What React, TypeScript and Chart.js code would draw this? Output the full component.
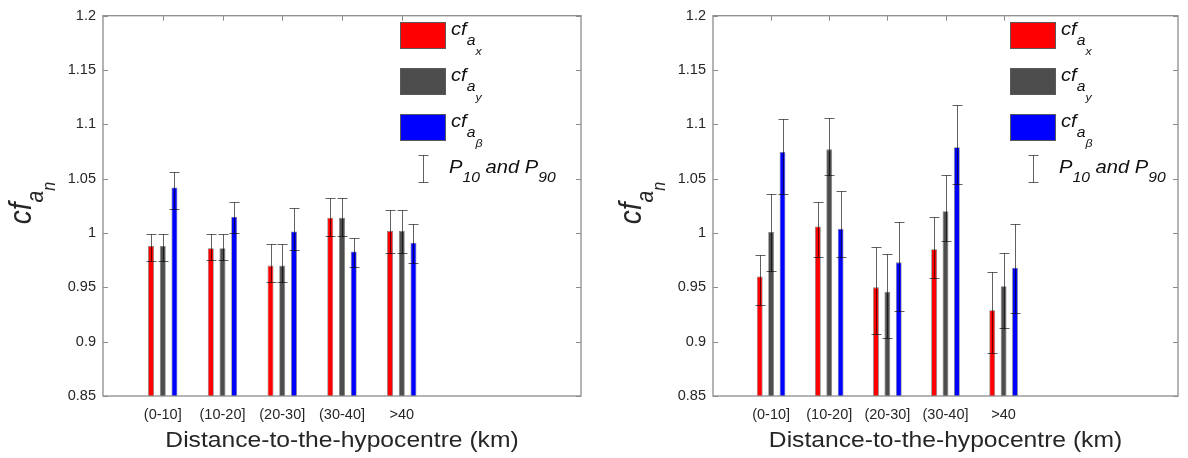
import React, { useEffect, useRef } from 'react';
import { Chart, registerables } from 'chart.js';

Chart.register(...registerables);

// Distance bins and y-axis ticks
const categories = ['(0-10]', '(10-20]', '(20-30]', '(30-40]', '>40'];
const yTicks = [0.85, 0.9, 0.95, 1, 1.05, 1.1, 1.15, 1.2];
const yMin = 0.85;
const yMax = 1.2;
const seriesColors = ['#ff0000', '#4d4d4d', '#0000ff'];
const seriesSubs = ['x', 'y', '\u03b2'];
const xTitle = 'Distance-to-the-hypocentre (km)';

// Left panel: median factors and P10 / P90 bounds
const leftAx = [0.988, 0.986, 0.970, 1.014, 1.002];
const leftAy = [0.988, 0.986, 0.970, 1.014, 1.002];
const leftAb = [1.042, 1.015, 1.0015, 0.983, 0.991];
const leftAxP10 = [0.974, 0.9755, 0.955, 0.997, 0.982];
const leftAyP10 = [0.974, 0.9755, 0.955, 0.997, 0.982];
const leftAbP10 = [1.0225, 1.0, 0.984, 0.969, 0.9725];
const leftAxP90 = [0.9995, 0.9995, 0.99, 1.0325, 1.021];
const leftAyP90 = [0.9995, 0.9995, 0.99, 1.0325, 1.021];
const leftAbP90 = [1.0565, 1.029, 1.023, 0.9955, 1.008];

// Right panel: median factors and P10 / P90 bounds
const rightAx = [0.96, 1.006, 0.95, 0.985, 0.929];
const rightAy = [1.001, 1.077, 0.946, 1.02, 0.951];
const rightAb = [1.0745, 1.004, 0.973, 1.079, 0.968];
const rightAxP10 = [0.9334, 0.978, 0.9075, 0.959, 0.89];
const rightAyP10 = [0.965, 1.053, 0.903, 0.993, 0.9126];
const rightAbP10 = [1.0357, 0.978, 0.9285, 1.045, 0.926];
const rightAxP90 = [0.98, 1.029, 0.9875, 1.0143, 0.9645];
const rightAyP90 = [1.036, 1.106, 0.981, 1.0534, 0.982];
const rightAbP90 = [1.1047, 1.039, 1.0097, 1.1175, 1.0082];

const FONT = '"Liberation Sans", Arial, Helvetica, sans-serif';
const SX = 1.12; // horizontal stretch of the drawn annotation text
const AXIS_GRAY = '#8c8c8c';
const TEXT = '#262626';

type Part = { t: string; size: number; dy: number };

function richWidth(ctx: CanvasRenderingContext2D, parts: Part[]) {
  let w = 0;
  for (const p of parts) {
    ctx.font = `italic ${p.size}px ${FONT}`;
    w += ctx.measureText(p.t).width;
  }
  return w;
}

function drawRich(ctx: CanvasRenderingContext2D, parts: Part[], x: number, y: number) {
  let cx = x;
  for (const p of parts) {
    ctx.font = `italic ${p.size}px ${FONT}`;
    ctx.fillText(p.t, cx, y + p.dy);
    cx += ctx.measureText(p.t).width;
  }
  return cx;
}

// Category axis runs 0..8 with the five bins at positions 1..5
const axisLabels = ['', ...categories, '', '', ''];
const padSeries = (arr: number[]) => [null, ...arr, null, null, null];

function makeDecor(p10: number[][], p90: number[][]) {
  return {
    id: 'decor',
    beforeDatasetsDraw(chart: any) {
      const { ctx, chartArea: a, scales } = chart;
      ctx.save();
      ctx.strokeStyle = AXIS_GRAY;
      ctx.lineWidth = 1;
      for (let k = 1; k <= categories.length; k++) {
        const px = Math.round(scales.x.getPixelForValue(k)) + 0.5;
        ctx.beginPath();
        ctx.moveTo(px, a.bottom);
        ctx.lineTo(px, a.bottom - 5);
        ctx.stroke();
      }
      ctx.restore();
    },
    afterDatasetsDraw(chart: any) {
      const { ctx, chartArea: a, scales } = chart;
      const ys = scales.y;
      const xs = scales.x;
      ctx.save();

      // P10-P90 whiskers
      ctx.strokeStyle = 'rgba(0,0,0,0.62)';
      ctx.lineWidth = 1;
      p10.forEach((lows, di) => {
        const meta = chart.getDatasetMeta(di);
        lows.forEach((lo, k) => {
          const bar = meta.data[k + 1];
          if (!bar) return;
          const x = Math.round(bar.x) + 0.5;
          const yl = Math.round(ys.getPixelForValue(lo)) + 0.5;
          const yh = Math.round(ys.getPixelForValue(p90[di][k])) + 0.5;
          ctx.beginPath();
          ctx.moveTo(x, yl);
          ctx.lineTo(x, yh);
          ctx.moveTo(x - 5, yl);
          ctx.lineTo(x + 5, yl);
          ctx.moveTo(x - 5, yh);
          ctx.lineTo(x + 5, yh);
          ctx.stroke();
        });
      });

      // axes box with inward ticks
      ctx.strokeStyle = AXIS_GRAY;
      ctx.lineWidth = 1.3;
      ctx.strokeRect(a.left, a.top, a.right - a.left, a.bottom - a.top);
      ctx.lineWidth = 1;
      yTicks.forEach((v) => {
        const py = Math.round(ys.getPixelForValue(v)) + 0.5;
        ctx.beginPath();
        ctx.moveTo(a.left, py);
        ctx.lineTo(a.left + 5, py);
        ctx.moveTo(a.right, py);
        ctx.lineTo(a.right - 5, py);
        ctx.stroke();
      });
      for (let k = 1; k <= categories.length; k++) {
        const px = Math.round(xs.getPixelForValue(k)) + 0.5;
        ctx.beginPath();
        ctx.moveTo(px, a.top);
        ctx.lineTo(px, a.top + 5);
        ctx.stroke();
      }

      // legend
      const boxX = a.left + 297;
      const boxW = 46;
      const boxH = 27;
      const rows = [22, 68, 114];
      ctx.textBaseline = 'alphabetic';
      ctx.textAlign = 'left';
      rows.forEach((top, i) => {
        ctx.fillStyle = seriesColors[i];
        ctx.fillRect(boxX, top, boxW, boxH);
        ctx.strokeStyle = '#5a5a5a';
        ctx.lineWidth = 1;
        ctx.strokeRect(boxX + 0.5, top + 0.5, boxW - 1, boxH - 1);
        ctx.save();
        ctx.translate(boxX + boxW + 5, top + 13);
        ctx.scale(SX, 1);
        ctx.fillStyle = '#111';
        drawRich(ctx, [
          { t: 'cf', size: 18, dy: 0 },
          { t: 'a', size: 14, dy: 10 },
          { t: seriesSubs[i], size: 11, dy: 20 },
        ], 0, 0);
        ctx.restore();
      });
      // whisker legend entry
      const wx = Math.round(a.left + 320) + 0.5;
      ctx.strokeStyle = 'rgba(0,0,0,0.62)';
      ctx.beginPath();
      ctx.moveTo(wx, 155.5);
      ctx.lineTo(wx, 182.5);
      ctx.moveTo(wx - 5, 155.5);
      ctx.lineTo(wx + 5, 155.5);
      ctx.moveTo(wx - 5, 182.5);
      ctx.lineTo(wx + 5, 182.5);
      ctx.stroke();
      ctx.save();
      ctx.translate(a.left + 346, 173);
      ctx.scale(SX, 1);
      ctx.fillStyle = '#111';
      drawRich(ctx, [
        { t: 'P', size: 18, dy: 0 },
        { t: '10', size: 14, dy: 9 },
        { t: ' and P', size: 18, dy: 0 },
        { t: '90', size: 14, dy: 9 },
      ], 0, 0);
      ctx.restore();

      // x-axis title
      ctx.save();
      ctx.translate((a.left + a.right) / 2, 447);
      ctx.scale(SX, 1);
      ctx.font = `22px ${FONT}`;
      ctx.fillStyle = TEXT;
      ctx.textAlign = 'center';
      ctx.fillText(xTitle, 0, 0);
      ctx.restore();

      // y-axis title, rotated
      const yParts: Part[] = [
        { t: 'cf', size: 28, dy: 0 },
        { t: 'a', size: 21, dy: 11 },
        { t: 'n', size: 16, dy: 21 },
      ];
      ctx.save();
      ctx.translate(a.left - 72, 203);
      ctx.rotate(-Math.PI / 2);
      ctx.scale(1, SX);
      ctx.fillStyle = TEXT;
      const w = richWidth(ctx, yParts);
      drawRich(ctx, yParts, -w / 2, 0);
      ctx.restore();

      ctx.restore();
    },
  };
}

type PanelSpec = {
  ax: number[];
  ay: number[];
  ab: number[];
  p10: number[][];
  p90: number[][];
  yAxisWidth: number;
  padRight: number;
};

const leftPanel: PanelSpec = {
  ax: leftAx,
  ay: leftAy,
  ab: leftAb,
  p10: [leftAxP10, leftAyP10, leftAbP10],
  p90: [leftAxP90, leftAyP90, leftAbP90],
  yAxisWidth: 103,
  padRight: 13,
};

const rightPanel: PanelSpec = {
  ax: rightAx,
  ay: rightAy,
  ab: rightAb,
  p10: [rightAxP10, rightAyP10, rightAbP10],
  p90: [rightAxP90, rightAyP90, rightAbP90],
  yAxisWidth: 119,
  padRight: 0,
};

function Panel({ spec }: { spec: PanelSpec }) {
  const ref = useRef<HTMLCanvasElement | null>(null);
  useEffect(() => {
    if (!ref.current) return;
    const series = [spec.ax, spec.ay, spec.ab];
    const chart = new Chart(ref.current, {
      type: 'bar',
      data: {
        labels: axisLabels,
        datasets: series.map((s, i) => ({
          label: 'cf_a' + seriesSubs[i],
          data: padSeries(s) as any,
          backgroundColor: seriesColors[i],
          borderColor: 'rgba(0,0,0,0.5)',
          borderWidth: 0.8,
          base: yMin,
          categoryPercentage: 0.588,
          barPercentage: 0.513,
        })),
      },
      options: {
        responsive: false,
        animation: false,
        devicePixelRatio: 1,
        layout: { padding: { left: 0, right: spec.padRight, top: 14, bottom: 0 } },
        plugins: {
          legend: { display: false },
          tooltip: { enabled: false },
        },
        scales: {
          x: {
            type: 'category',
            offset: false,
            grid: { display: false, drawTicks: false },
            border: { display: false },
            ticks: {
              autoSkip: false,
              maxRotation: 0,
              minRotation: 0,
              padding: 10,
              color: TEXT,
              font: { family: FONT, size: 14.5 },
            },
            afterFit: (s: any) => {
              s.height = 62;
            },
          },
          y: {
            min: yMin,
            max: yMax,
            grid: { display: false, drawTicks: false },
            border: { display: false },
            afterBuildTicks: (s: any) => {
              s.ticks = yTicks.map((v) => ({ value: v }));
            },
            ticks: {
              padding: 7,
              color: TEXT,
              font: { family: FONT, size: 14.5 },
              callback: (v: any) => String(+Number(v).toFixed(2)),
            },
            afterFit: (s: any) => {
              s.width = spec.yAxisWidth;
            },
          },
        },
      },
      plugins: [makeDecor(spec.p10, spec.p90)],
    });
    return () => chart.destroy();
  }, [spec]);
  return <canvas ref={ref} width={594} height={458} style={{ display: 'block', width: 594, height: 458 }} />;
}

export default function App() {
  return (
    <div
      style={{
        position: 'absolute',
        left: 0,
        top: 0,
        width: 1188,
        height: 458,
        background: '#ffffff',
        display: 'flex',
      }}
    >
      <Panel spec={leftPanel} />
      <Panel spec={rightPanel} />
    </div>
  );
}
